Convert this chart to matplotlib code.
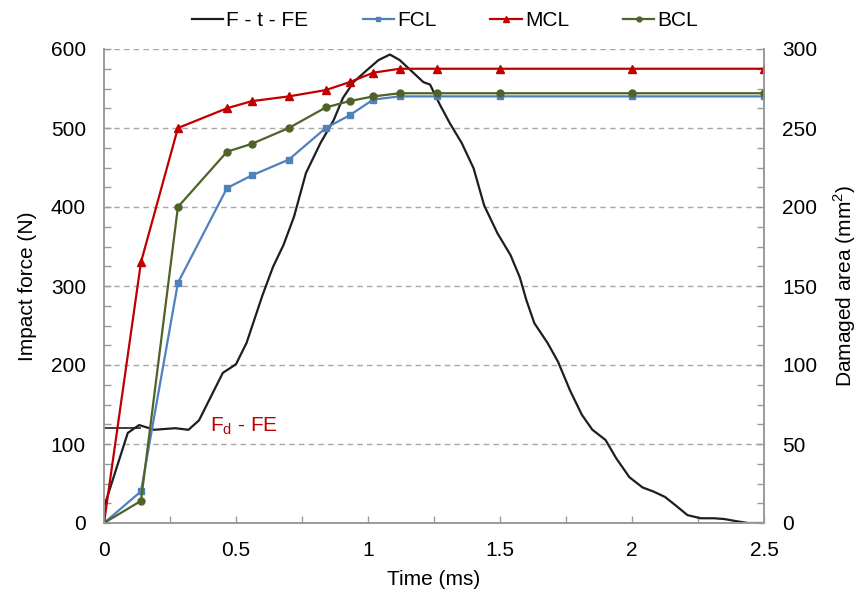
import matplotlib.pyplot as plt
from matplotlib.ticker import MultipleLocator

plt.rcParams['font.family'] = ['Liberation Sans', 'DejaVu Sans']
plt.rcParams['font.size'] = 15

# F - t curve from the FE model
t_fe = [0, 0.09, 0.133, 0.19, 0.27, 0.32, 0.36, 0.405, 0.45, 0.5, 0.54, 0.6,
        0.64, 0.68, 0.72, 0.765, 0.82, 0.87, 0.905, 0.945, 0.995, 1.04, 1.083,
        1.12, 1.21, 1.235, 1.27, 1.31, 1.355, 1.40, 1.44, 1.49, 1.54, 1.575,
        1.60, 1.63, 1.68, 1.72, 1.765, 1.81, 1.85, 1.90, 1.94, 1.99, 2.04,
        2.08, 2.125, 2.17, 2.21, 2.26, 2.31, 2.35, 2.40, 2.44, 2.5]
f_fe = [20, 114, 124, 118, 120, 118, 130, 160, 190, 201, 228, 288,
        324, 352, 388, 443, 481, 510, 538, 558, 573, 586, 593,
        586, 558, 555, 531, 506, 481, 449, 402, 367, 339, 311,
        282, 253, 228, 204, 168, 137, 118, 105, 82, 58, 45,
        40, 33, 21, 10, 6, 6, 5, 2, 0, 0]

# damaged area for the three cohesive-layer models
t_dmg = [0, 0.14, 0.28, 0.466, 0.56, 0.70, 0.84, 0.93, 1.02, 1.12, 1.26, 1.5, 2.0, 2.5]
fcl = [0, 20, 152, 212, 220, 230, 250, 258, 268, 270, 270, 270, 270, 270]
mcl = [0, 165, 250, 262.5, 267, 270, 274, 279, 285, 287.5, 287.5, 287.5, 287.5, 287.5]
bcl = [0, 14, 200, 235, 240, 250, 263, 267, 270, 272, 272, 272, 272, 272]

fd_fe = 120

fig = plt.figure(figsize=(8.57, 5.97), dpi=100)
ax = fig.add_axes([104 / 857, 1 - 523 / 597, 660 / 857, 474 / 597])
ax2 = ax.twinx()

gray = '#9a9a9a'
ax.set_xlim(0, 2.5)
ax.set_ylim(0, 600)
ax2.set_ylim(0, 300)
ax.xaxis.set_minor_locator(MultipleLocator(0.25))
ax.yaxis.set_major_locator(MultipleLocator(100))
ax.yaxis.set_minor_locator(MultipleLocator(25))
ax2.yaxis.set_major_locator(MultipleLocator(50))
ax2.yaxis.set_minor_locator(MultipleLocator(12.5))
ax.set_xticks([0, 0.5, 1, 1.5, 2, 2.5])
ax.set_xticklabels(['0', '0.5', '1', '1.5', '2', '2.5'])

for a in (ax, ax2):
    a.spines['top'].set_visible(False)
    for s in ('left', 'right', 'bottom'):
        a.spines[s].set_color(gray)
        a.spines[s].set_linewidth(1.2)
    a.tick_params(which='both', direction='in', color=gray, width=1, length=5, pad=13)

ax.yaxis.grid(True, which='major', linestyle=(0, (4, 3)), color='#a8a8a8', linewidth=1)
ax.set_axisbelow(True)

l0, = ax.plot(t_fe, f_fe, color='#1e1e1e', lw=1.6, label='F - t - FE')
ax.plot([0, 0.135], [fd_fe, fd_fe], color='#1e1e1e', lw=1.2)
ax.text(0.40, fd_fe + 3, 'F$_\\mathregular{d}$ - FE', color='#c00000', va='center')

l1, = ax2.plot(t_dmg, fcl, color='#4f81bd', lw=1.6, marker='s', ms=5, label='FCL')
l2, = ax2.plot(t_dmg, mcl, color='#c00000', lw=1.6, marker='^', ms=5.5, label='MCL')
l3, = ax2.plot(t_dmg, bcl, color='#4f6228', lw=1.6, marker='o', ms=5, label='BCL')

ax.set_xlabel('Time (ms)', labelpad=7)
ax.set_ylabel('Impact force (N)', labelpad=10)
ax2.set_ylabel('Damaged area (mm$^\\mathregular{2}$)', labelpad=10)

fig.legend(handles=[l0, l1, l2, l3], loc='center', bbox_to_anchor=(445 / 857, 1 - 21 / 597),
           ncol=4, frameon=False, handlelength=1.5, handletextpad=0.15,
           columnspacing=2.6, markerscale=0.7)

fig.savefig('out.png', dpi=100)
